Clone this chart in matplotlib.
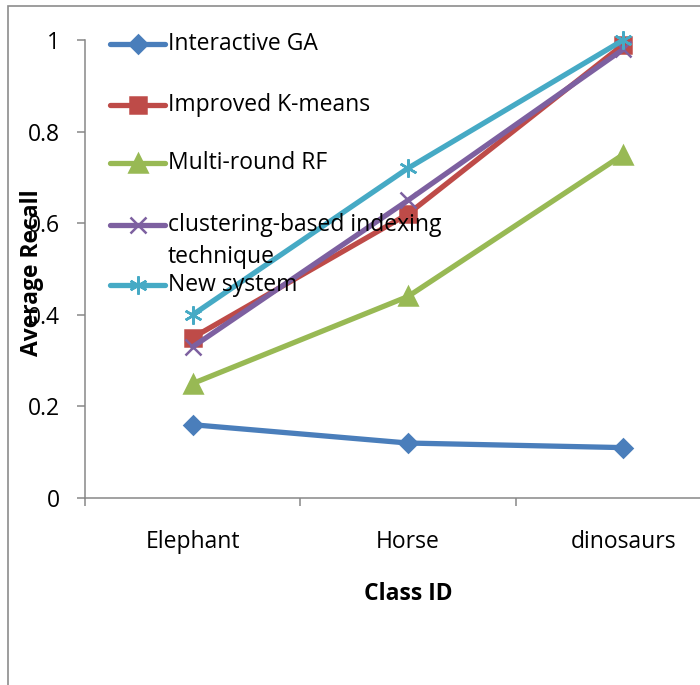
import matplotlib
matplotlib.use('Agg')
import matplotlib.pyplot as plt
from matplotlib.patches import Rectangle
from matplotlib.lines import Line2D

plt.rcParams['font.family'] = ['Open Sans', 'DejaVu Sans']

classes = ['Elephant', 'Horse', 'dinosaurs']
series_names = ['Interactive GA', 'Improved K-means', 'Multi-round RF',
                'clustering-based indexing\ntechnique', 'New system']
interactive_ga = [0.16, 0.12, 0.11]
improved_kmeans = [0.35, 0.62, 0.99]
multi_round_rf = [0.25, 0.44, 0.75]
clustering_idx = [0.33, 0.65, 0.98]
new_system = [0.40, 0.72, 1.00]
y_ticks = [0, 0.2, 0.4, 0.6, 0.8, 1]
y_tick_labels = ['0', '0.2', '0.4', '0.6', '0.8', '1']

colors = ['#4A7EBB', '#BE4B48', '#98B954', '#7D60A0', '#46AAC5']
markers = ['D', 's', '^', 'x', (6, 2, 0)]
msizes = [9.5, 12, 13, 12, 13]
values = [interactive_ga, improved_kmeans, multi_round_rf, clustering_idx, new_system]

W, H = 700, 685
fs = 16.5
fig = plt.figure(figsize=(7, 6.85), dpi=100)
ax = fig.add_axes([85 / W, (H - 498) / H, 646 / W, 458 / H])

x = list(range(len(classes)))
for vals, c, m, ms in zip(values, colors, markers, msizes):
    ax.plot(x, vals, color=c, lw=3.8, marker=m, ms=ms, mew=1.8,
            mec=c, mfc=c, clip_on=False, solid_capstyle='round')

ax.set_xlim(-0.5, 2.5)
ax.set_ylim(0, 1)
ax.set_yticks(y_ticks)
ax.set_yticklabels(y_tick_labels)
ax.set_xticks(x)
ax.set_xticklabels(classes)
ax.set_xticks([-0.5, 0.5, 1.5, 2.5], minor=True)

spine_c = '#878787'
for s in ['top', 'right']:
    ax.spines[s].set_visible(False)
for s in ['left', 'bottom']:
    ax.spines[s].set_color(spine_c)
    ax.spines[s].set_linewidth(1.1)
ax.tick_params(axis='y', length=6, color=spine_c, width=1.1, pad=12, labelsize=fs)
ax.tick_params(axis='x', which='major', length=0, pad=23, labelsize=fs)
ax.tick_params(axis='x', which='minor', length=6, color=spine_c, width=1.1)

ax.set_ylabel('Average Recall', fontsize=fs, fontweight='bold')
ax.yaxis.set_label_coords(-0.063, 0.491)
ax.set_xlabel('Class ID', fontsize=fs, fontweight='bold')
ax.xaxis.set_label_coords(0.5, -0.183)

# legend drawn by hand, Excel style (marker sits on first text line)
leg_y = [44, 105, 163, 225, 285]
for name, c, m, ms, yy in zip(series_names, colors, markers, msizes, leg_y):
    fy = 1 - yy / H
    fig.add_artist(Line2D([110 / W, 165 / W], [fy, fy], color=c, lw=3.8,
                          solid_capstyle='round'))
    fig.add_artist(Line2D([137.5 / W], [fy], color=c, marker=m, ms=ms, mew=1.8,
                          mec=c, mfc=c))
    for k, line in enumerate(name.split('\n')):
        fig.text(168 / W, 1 - (yy + 32 * k) / H, line, fontsize=fs,
                 ha='left', va='center')

# outer frame (only top and left edges visible)
fig.add_artist(Rectangle((8 / W, -0.2), 1.5, 1.2 - 5.5 / H, fill=False,
                         ec='#8C8C8C', lw=1.2, transform=fig.transFigure))

fig.savefig('out.png', dpi=100)
